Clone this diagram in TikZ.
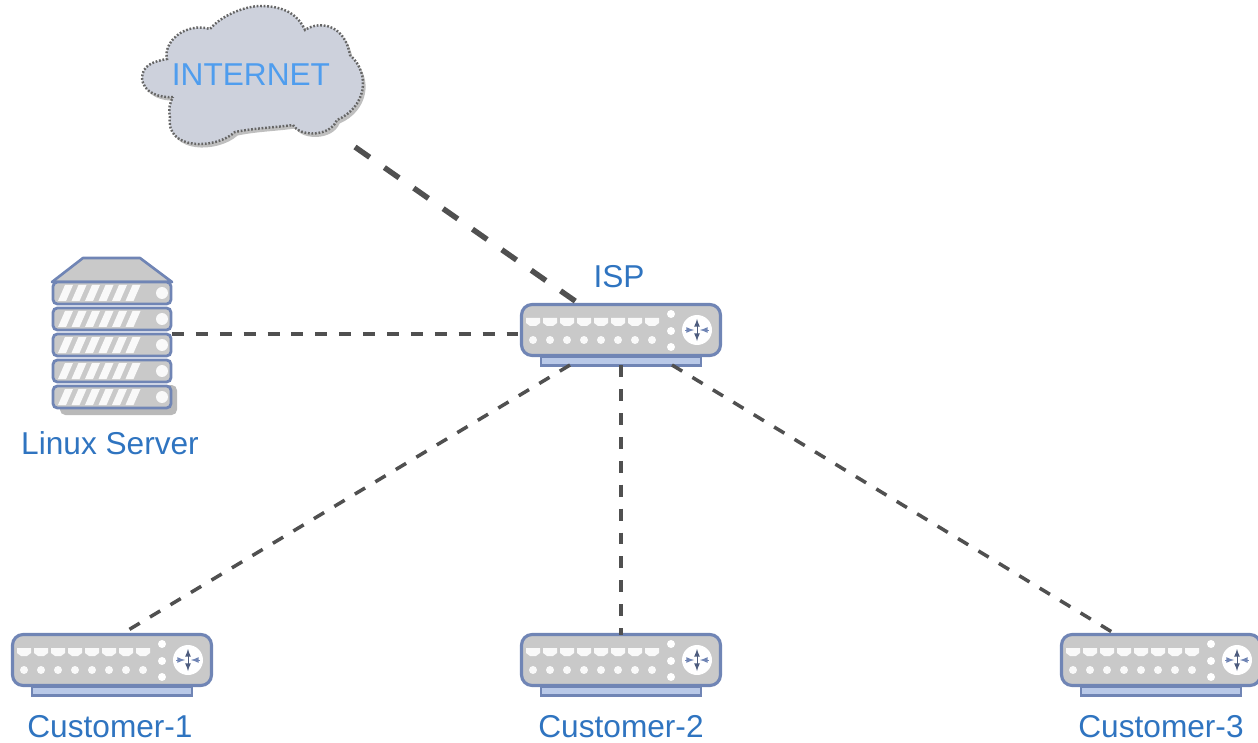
\documentclass[tikz,border=0pt]{standalone}
\usepackage{fontspec}
\setmainfont{Liberation Sans}
\usepackage{xcolor}
\usetikzlibrary{arrows,positioning,shadows}
\definecolor{edgeblue}{HTML}{7085B5}
\definecolor{basefill}{HTML}{B9C9E8}
\definecolor{boxgray}{HTML}{C9C9C9}
\definecolor{labelblue}{HTML}{2F74C0}
\definecolor{netblue}{HTML}{4F9DEE}
\definecolor{cloudfill}{HTML}{CDD1DC}
\definecolor{linkgray}{HTML}{505050}
\tikzset{
  lbl/.style={text=labelblue,font=\fontsize{18}{20}\selectfont,inner sep=0pt},
  link/.style={draw=linkgray,line width=2pt,dash pattern=on 6.8pt off 6.8pt},
  uplink/.style={draw=linkgray,line width=3.1pt,dash pattern=on 10.2pt off 10.2pt},
  router/.pic={
    \node[draw=edgeblue,fill=basefill,line width=1.5pt,minimum width=3.2cm,minimum height=.17cm,inner sep=0pt,outer sep=0pt] (-base) at (0,31) {};
    \node[draw=edgeblue,fill=boxgray,line width=1.8pt,rounded corners=6pt,minimum width=3.98cm,minimum height=1.02cm,inner sep=0pt,outer sep=0pt] (-body) at (0,0) {};
    \foreach \k in {0,...,7} {
      \fill[white!95!gray] (-88+17*\k-7,-12) -- ++(14,0) -- ++(0,5) -- ++(-4,3) -- ++(-6,0) -- ++(-4,-3) -- cycle;
      \fill[white!95!gray] (-88+17*\k,10) circle (4);
    }
    \foreach \k in {-16,1,17} \fill[white] (50,\k) circle (4);
    \fill[white] (76,0) circle (15);
    \draw[<->,>=latex,draw=edgeblue!70!black,line width=.5pt] (76,-11) -- (76,11);
    \draw[->,>=latex,draw=edgeblue,line width=.5pt] (64,0) -- (73,0);
    \draw[->,>=latex,draw=edgeblue,line width=.5pt] (88,0) -- (79,0);
  }
}
\begin{document}
\begin{tikzpicture}[x=.02cm,y=-.02cm,>=latex]
\clip (0,0) rectangle (1258,743);

% cloud
\path[fill=cloudfill,draw=gray!80!black,line width=1.4pt,dash pattern=on 1pt off 1pt,
  drop shadow={shadow xshift=1.5pt,shadow yshift=-2pt,opacity=.5}]
  (173,97) .. controls (160,98) and (143,93) .. (142,78)
  .. controls (142,65) and (155,61) .. (167,59)
  .. controls (163,42) and (185,22) .. (210,29)
  .. controls (225,12) and (250,6) .. (260,6)
  .. controls (285,6) and (298,15) .. (305,30)
  .. controls (320,20) and (345,25) .. (350,55)
  .. controls (372,75) and (365,108) .. (337,120)
  .. controls (330,137) and (300,137) .. (293,125)
  .. controls (270,128) and (255,128) .. (235,132)
  .. controls (215,150) and (165,150) .. (170,117)
  .. controls (168,110) and (170,102) .. (173,97) -- cycle;
\node[text=netblue,font=\fontsize{18}{20}\selectfont,inner sep=0pt] (internet) at (251,75) {INTERNET};

% server
\fill[gray!55,rounded corners=3pt] (60,385) rectangle (177,415);
\fill[boxgray,draw=edgeblue,line width=1.5pt,line join=round] (83,258) -- (140,258) -- (172,282) -- (52,282) -- cycle;
\foreach \r/\yy in {1/293,2/319,3/345,4/371,5/397} {
  \node[draw=edgeblue,fill=boxgray,line width=1.6pt,rounded corners=2.5pt,minimum width=2.36cm,minimum height=.44cm,inner sep=0pt,outer sep=0pt] (blade\r) at (112,\yy) {};
  \foreach \k in {0,...,5}
    \fill[white!95!gray] (58+13.5*\k,\yy+8) -- ++(8,0) -- ++(7,-16) -- ++(-8,0) -- cycle;
  \fill[white!95!gray] (162,\yy) circle (6);
}
\node[lbl,below=.46cm of blade5,xshift=-.04cm] (linux) {Linux Server};

% routers
\pic (isp) at (621,330) {router};
\pic (cust1) at (112,660) {router};
\pic (cust2) at (621,660) {router};
\pic (cust3) at (1161,660) {router};
\node[lbl] (isplabel) at (619,277) {ISP};
\node[lbl] (c1label) at (110,727) {Customer-1};
\node[lbl] (c2label) at (621,727) {Customer-2};
\node[lbl] (c3label) at (1161,727) {Customer-3};

\coordinate (cloudend) at (355,147);
\coordinate (isptop) at (578,303);
\coordinate (srvport) at (172,334);
\coordinate (ispwest) at (520,334);
\coordinate (ispleft) at (570,365);
\coordinate (ispright) at (672,365);
\coordinate (c1top) at (125,632);
\coordinate (c3top) at (1112,632);

\draw[uplink] (cloudend) -- (isptop);
\draw[link] (srvport) -- (ispwest);
\draw[link] (ispleft) -- (c1top);
\draw[link] (isp-base.south) -- (cust2-body.north);
\draw[link] (ispright) -- (c3top);
\end{tikzpicture}
\end{document}
